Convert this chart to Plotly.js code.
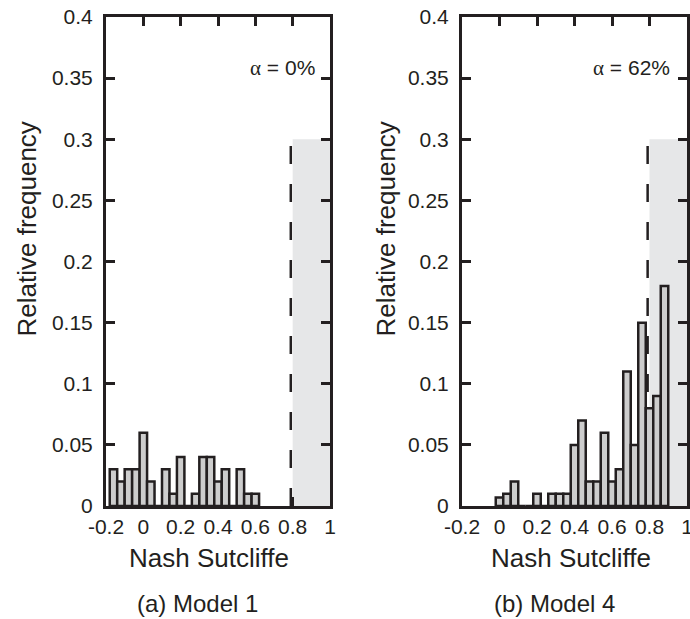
<!DOCTYPE html>
<html>
<head>
<meta charset="utf-8">
<script src="https://cdn.plot.ly/plotly-3.0.1.min.js"></script>
<style>html,body{margin:0;padding:0;background:#fff;}#chart{width:690px;height:619px;}</style>
</head>
<body>
<div id="chart"></div>
<script>
// ---- data ----
const model1Centers = [-0.16,-0.12,-0.08,-0.04,0.00,0.04,0.08,0.12,0.16,0.20,0.24,0.28,0.32,0.36,0.40,0.44,0.48,0.52,0.56,0.60];
const model1Freq    = [0.03,0.02,0.03,0.03,0.06,0.02,0.00,0.03,0.01,0.04,0.00,0.01,0.04,0.04,0.02,0.03,0.00,0.03,0.01,0.01];

const model4Centers = [0.00,0.04,0.08,0.12,0.16,0.20,0.24,0.28,0.32,0.36,0.40,0.44,0.48,0.52,0.56,0.60,0.64,0.68,0.72,0.76,0.80,0.84,0.88];
const model4Freq    = [0.007,0.01,0.02,0.00,0.00,0.01,0.00,0.01,0.01,0.01,0.05,0.07,0.02,0.02,0.06,0.02,0.03,0.11,0.05,0.15,0.08,0.09,0.18];

const xTickVals  = [-0.2,0,0.2,0.4,0.6,0.8,1];
const xTickText  = ["-0.2","0","0.2","0.4","0.6","0.8","1"];
const yTickVals  = [0,0.05,0.1,0.15,0.2,0.25,0.3,0.35,0.4];
const yTickText  = ["0","0.05","0.1","0.15","0.2","0.25","0.3","0.35","0.4"];

const threshold = 0.8;       // Nash Sutcliffe acceptance threshold
const shadeTop  = 0.3;
const alphaText = ["0%","62%"];
const panelCaptions = ["(a) Model 1","(b) Model 4"];
const xTitle = "Nash Sutcliffe";
const yTitle = "Relative frequency";

// ---- styling ----
const INK = "#231f20";
const FONT = "Liberation Sans, Arial, Helvetica, sans-serif";
const W = 690, H = 619;
const px = v => v / W;
const py = v => 1 - v / H;

function barTrace(x, y, xa, ya) {
  return {type: "bar", x: x, y: y, xaxis: xa, yaxis: ya, width: 0.04,
    marker: {color: "#cdcdcd", line: {color: INK, width: 2.5}}, hoverinfo: "x+y", showlegend: false};
}
const data = [barTrace(model1Centers, model1Freq, "x", "y"), barTrace(model4Centers, model4Freq, "x2", "y2")];

function xAxis(domain, anchor) {
  return {domain: domain, anchor: anchor, range: [-0.2, 1],
    tickmode: "array", tickvals: xTickVals, ticktext: xTickText,
    ticks: "inside", ticklen: 9, tickwidth: 3, tickcolor: INK,
    showline: true, linecolor: INK, linewidth: 3, mirror: "allticks",
    layer: "below traces",
    showgrid: false, zeroline: false, ticklabeloverflow: "allow",
    tickfont: {family: FONT, size: 21, color: INK}};
}
function yAxis(anchor) {
  return {domain: [py(506), py(17)], anchor: anchor, range: [0, 0.4],
    tickmode: "array", tickvals: yTickVals, ticktext: yTickText,
    ticks: "inside", ticklen: 9, tickwidth: 3, tickcolor: INK,
    showline: true, linecolor: INK, linewidth: 3, mirror: "allticks",
    layer: "below traces",
    showgrid: false, zeroline: false, ticklabelstandoff: 6,
    tickfont: {family: FONT, size: 21, color: INK}};
}

const shapes = [];
[["x","y"],["x2","y2"]].forEach(([xa, ya]) => {
  shapes.push({type: "rect", xref: xa, yref: ya, x0: threshold, x1: 1, y0: 0, y1: shadeTop,
               fillcolor: "#e6e7e8", line: {width: 0}, layer: "below"});
  shapes.push({type: "line", xref: xa, yref: ya, x0: threshold - 0.01, x1: threshold - 0.01, y0: 0, y1: shadeTop,
               line: {color: INK, width: 2.5, dash: "18px,20px"}, layer: "below"});
});

const annotations = [];
const xTitleX = [209, 571], yTitleX = [26.5, 385.5], capX = [197, 554];
const alphaX = [0.93, 0.92];
["x","x2"].forEach((xa, i) => {
  annotations.push({xref: "paper", yref: "paper", x: px(xTitleX[i]), y: py(558), text: xTitle,
    showarrow: false, xanchor: "center", yanchor: "middle", font: {family: FONT, size: 26, color: INK}});
  annotations.push({xref: "paper", yref: "paper", x: px(yTitleX[i]), y: py(229), text: yTitle, textangle: -90,
    showarrow: false, xanchor: "center", yanchor: "middle", font: {family: FONT, size: 26, color: INK}});
  annotations.push({xref: "paper", yref: "paper", x: px(capX[i]), y: py(603), text: panelCaptions[i],
    showarrow: false, xanchor: "center", yanchor: "middle", font: {family: FONT, size: 24, color: INK}});
  annotations.push({xref: xa, yref: i === 0 ? "y" : "y2", x: alphaX[i], y: 0.358,
    text: '<span style="font-family:Liberation Serif, Times New Roman, serif">α</span> = ' + alphaText[i],
    showarrow: false, xanchor: "right", yanchor: "middle", font: {family: FONT, size: 21, color: INK}});
});

const layout = {width: W, height: H, margin: {l: 0, r: 0, t: 0, b: 0},
  paper_bgcolor: "#ffffff", plot_bgcolor: "rgba(0,0,0,0)", showlegend: false, bargap: 0,
  xaxis: xAxis([px(106), px(330)], "y"), yaxis: yAxis("x"),
  xaxis2: xAxis([px(462), px(687)], "y2"), yaxis2: yAxis("x2"),
  shapes: shapes, annotations: annotations};

Plotly.newPlot("chart", data, layout, {displayModeBar: false, staticPlot: true});
</script>
</body>
</html>
